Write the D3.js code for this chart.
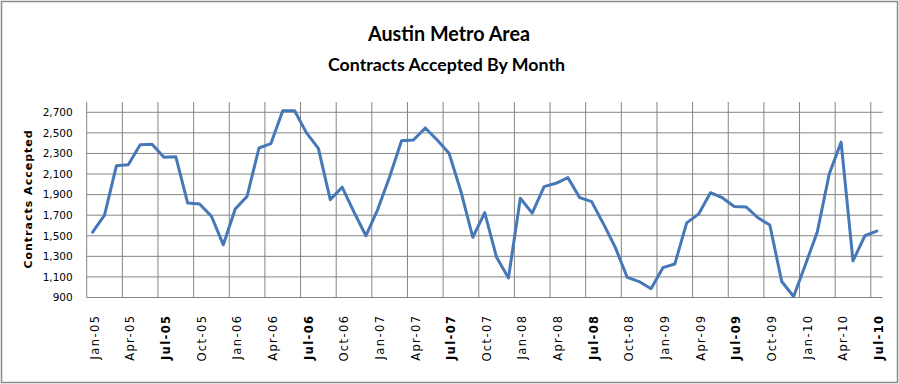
<!DOCTYPE html>
<html>
<head>
<meta charset="UTF-8">
<title>Austin Metro Area</title>
<script src="https://cdn.jsdelivr.net/npm/d3@7/dist/d3.min.js"></script>
<style>
	body { margin: 0; background: #fff; }
	svg { display: block; }
</style>
</head>
<body>
	<div id="chart"></div>
	<script type="text/javascript">
		// categories: Jan-05 .. Jul-10
		var monthNames = ["Jan", "Feb", "Mar", "Apr", "May", "Jun", "Jul", "Aug", "Sep", "Oct", "Nov", "Dec"];
		var years = ["05", "06", "07", "08", "09", "10"];
		var months = [];
		years.forEach(function(y) {
			monthNames.forEach(function(m) {
				months.push(m + "-" + y);
			});
		});
		months = months.slice(0, 67);

		// contracts accepted per month
		var contracts = [
			1535, 1700, 2180, 2190, 2385, 2390, 2262, 2268, 1818, 1808, 1690, 1412,
			1760, 1883, 2353, 2395, 2716, 2715, 2500, 2350, 1851, 1972, 1730, 1500,
			1757, 2073, 2423, 2430, 2548, 2430, 2302, 1930, 1485, 1725, 1290, 1090,
			1865, 1720, 1978, 2010, 2065, 1870, 1832, 1615, 1385, 1095, 1055, 985,
			1190, 1225, 1625, 1710, 1918, 1870, 1785, 1780, 1675, 1605, 1055, 910,
			1220, 1540, 2100, 2410, 1255, 1500, 1545
		];

		var yTicks = [900, 1100, 1300, 1500, 1700, 1900, 2100, 2300, 2500, 2700];

		var W = 899, H = 384;
		var margin = { top: 102, right: 16.3, bottom: 86.5, left: 86.7 };
		var width = W - margin.left - margin.right;
		var height = H - margin.top - margin.bottom;

		var svg = d3.select("#chart").append("svg").attr("width", W).attr("height", H);

		// outer frame
		svg.append("rect").attr("x", 1.5).attr("y", 1.5).attr("width", W - 3).attr("height", H - 3)
			.attr("fill", "#fff").attr("stroke", "#8a8a8a").attr("stroke-width", 1.5);

		// titles
		svg.append("text").attr("x", 449).attr("y", 41).attr("text-anchor", "middle")
			.attr("font-family", "Lato, 'Open Sans', sans-serif").attr("font-weight", "bold").attr("font-size", 20)
			.attr("textLength", 162).attr("lengthAdjust", "spacingAndGlyphs")
			.text("Austin Metro Area");
		svg.append("text").attr("x", 446.5).attr("y", 71).attr("text-anchor", "middle")
			.attr("font-family", "Lato, 'Open Sans', sans-serif").attr("font-weight", "bold").attr("font-size", 16.5)
			.attr("textLength", 237).attr("lengthAdjust", "spacingAndGlyphs")
			.text("Contracts Accepted By Month");

		var g = svg.append("g").attr("transform", "translate(" + margin.left + "," + margin.top + ")");

		var x = d3.scaleBand().domain(months).range([0, width]).padding(0);
		var y = d3.scaleLinear().domain([900, 2800]).range([height, 0]);
		var bw = x.bandwidth();

		// horizontal gridlines
		g.append("g").selectAll("line").data(yTicks).enter().append("line")
			.attr("x1", 0).attr("x2", width)
			.attr("y1", function(d) { return y(d); }).attr("y2", function(d) { return y(d); })
			.attr("stroke", "#858585").attr("stroke-width", 1);

		// vertical gridlines every 3 months (category boundaries)
		var gridMonths = months.filter(function(d, i) { return i % 3 === 0; });
		g.append("g").selectAll("line").data(gridMonths).enter().append("line")
			.attr("x1", function(d) { return x(d); }).attr("x2", function(d) { return x(d); })
			.attr("y1", 0).attr("y2", height)
			.attr("stroke", "#858585").attr("stroke-width", 1);

		// y axis labels
		g.append("g").selectAll("text").data(yTicks).enter().append("text")
			.attr("x", -14).attr("y", function(d) { return y(d); }).attr("dy", "0.36em")
			.attr("text-anchor", "end")
			.attr("font-family", "'DejaVu Sans', Verdana, sans-serif").attr("font-size", 10.5)
			.text(function(d) { return d3.format(",")(d); });

		// x axis labels (rotated)
		g.append("g").selectAll("text").data(gridMonths).enter().append("text")
			.attr("transform", function(d) {
				return "translate(" + (x(d) + bw / 2 + 2) + "," + (height + 17) + ") rotate(-90)";
			})
			.attr("dy", "0.36em")
			.attr("text-anchor", "end")
			.attr("font-family", "'DejaVu Sans', Verdana, sans-serif").attr("font-size", 11.5)
			.attr("letter-spacing", 1.4)
			.attr("font-weight", function(d) { return d.indexOf("Jul") === 0 ? "bold" : "normal"; })
			.text(function(d) { return d; });

		// y axis title
		svg.append("text")
			.attr("transform", "translate(28,199) rotate(-90)")
			.attr("dy", "0.36em")
			.attr("text-anchor", "middle")
			.attr("font-family", "'DejaVu Sans', Verdana, sans-serif").attr("font-weight", "bold").attr("font-size", 11)
			.attr("letter-spacing", 1)
			.text("Contracts Accepted");

		// the line
		var line = d3.line()
			.x(function(d, i) { return x(months[i]) + bw / 2; })
			.y(function(d) { return y(d); });

		g.append("path").datum(contracts)
			.attr("fill", "none").attr("stroke", "#4678b8").attr("stroke-width", 3)
			.attr("stroke-linejoin", "round").attr("stroke-linecap", "round")
			.attr("d", line);
	</script>
</body>
</html>
